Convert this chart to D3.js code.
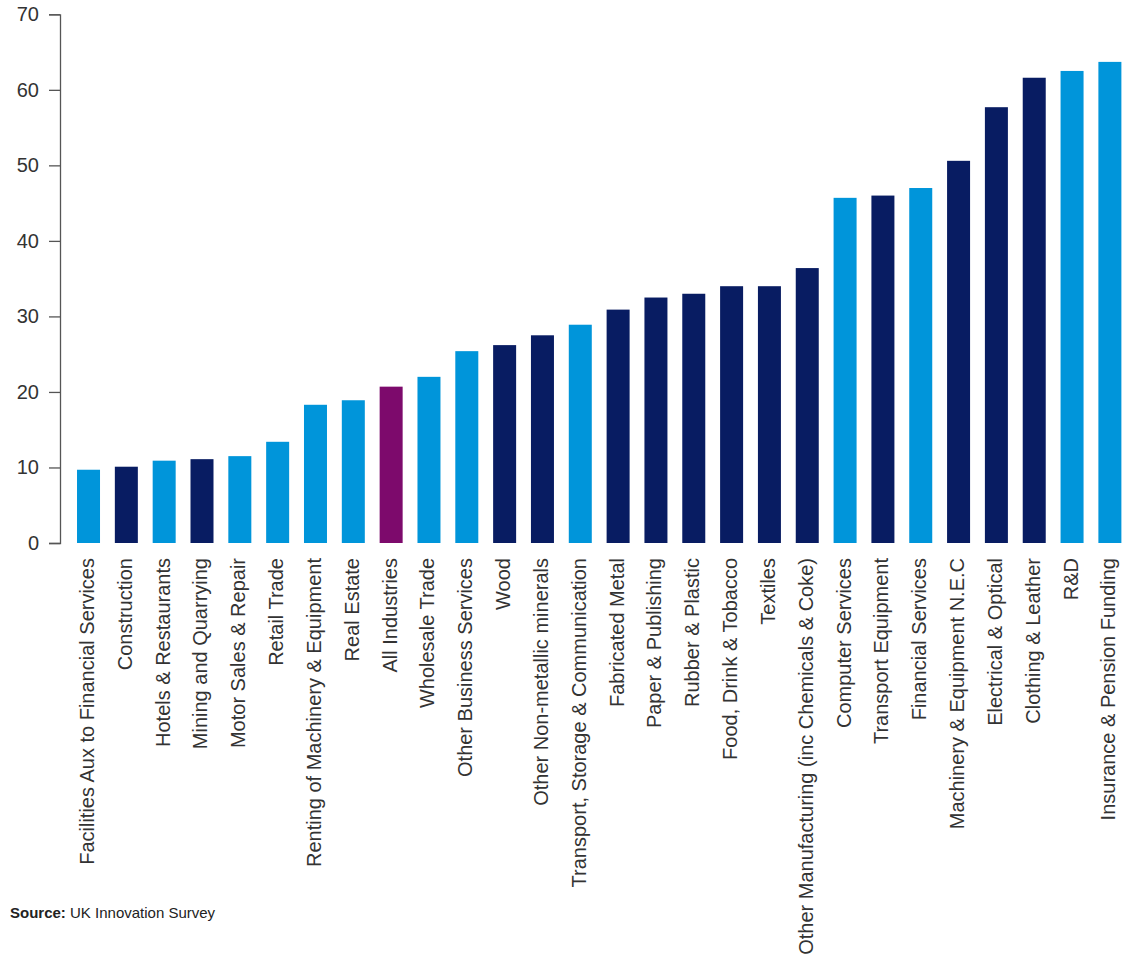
<!DOCTYPE html>
<html>
<head>
<meta charset="utf-8">
<script src="https://cdn.jsdelivr.net/npm/d3@7"></script>
<style>
  html, body { margin: 0; padding: 0; background: #fff; }
  svg { display: block; font-family: "Liberation Sans", Arial, sans-serif; }
</style>
</head>
<body>
<svg id="chart" width="1123" height="962"></svg>
<script>
const categories = [
  "Facilities Aux to Financial Services", "Construction", "Hotels & Restaurants",
  "Mining and Quarrying", "Motor Sales & Repair", "Retail Trade",
  "Renting of Machinery & Equipment", "Real Estate", "All Industries",
  "Wholesale Trade", "Other Business Services", "Wood",
  "Other Non-metallic minerals", "Transport, Storage & Communication",
  "Fabricated Metal", "Paper & Publishing", "Rubber & Plastic",
  "Food, Drink & Tobacco", "Textiles", "Other Manufacturing (inc Chemicals & Coke)",
  "Computer Services", "Transport Equipment", "Financial Services",
  "Machinery & Equipment N.E.C", "Electrical & Optical", "Clothing & Leather",
  "R&D", "Insurance & Pension Funding"
];
const values = [
  9.7, 10.1, 10.9, 11.1, 11.5, 13.4, 18.3, 18.9, 20.7, 22.0,
  25.4, 26.2, 27.5, 28.9, 30.9, 32.5, 33.0, 34.0, 34.0, 36.4,
  45.7, 46.0, 47.0, 50.6, 57.7, 61.6, 62.5, 63.7
];
// S = services, M = manufacturing/production, A = all industries
const sectors = [
  "S","M","S","M","S","S","S","S","A","S",
  "S","M","M","S","M","M","M","M","M","M",
  "S","M","S","M","M","M","S","S"
];
const yTicks = [0, 10, 20, 30, 40, 50, 60, 70];
const sectorColors = { S: "#0095da", M: "#081c62", A: "#7d0a6c" };

const svg = d3.select("#chart");
const data = categories.map((c, i) => ({ c, v: values[i], s: sectors[i] }));

const x = d3.scaleBand()
  .domain(categories)
  .range([58.1, 1140.3])
  .paddingInner(0.392)
  .paddingOuter(0.5);

const y = d3.scaleLinear().domain([0, 70]).range([543, 14.3]);

// Y axis
const yAxis = svg.append("g")
  .attr("transform", "translate(60,0)")
  .call(d3.axisLeft(y).tickValues(yTicks).tickSize(11).tickPadding(10).tickFormat(d3.format("d")));
yAxis.select(".domain").attr("stroke", "#555").attr("stroke-width", 1.3);
yAxis.selectAll(".tick line").attr("stroke", "#555").attr("stroke-width", 1.3);
yAxis.selectAll(".tick text")
  .attr("fill", "#333")
  .style("font-size", "20px")
  .style("font-family", "'Liberation Sans', Arial, sans-serif");

// Bars
svg.append("g").selectAll("rect")
  .data(data)
  .join("rect")
  .attr("x", d => x(d.c))
  .attr("width", x.bandwidth())
  .attr("y", d => y(d.v))
  .attr("height", d => y(0) - y(d.v))
  .attr("fill", d => sectorColors[d.s]);

// Category labels (rotated)
svg.append("g").selectAll("text")
  .data(data)
  .join("text")
  .attr("transform", d => `translate(${x(d.c) + x.bandwidth() / 2 + 5.5},558) rotate(-90)`)
  .attr("text-anchor", "end")
  .attr("fill", "#333")
  .style("font-size", "20px")
  .text(d => d.c);

// Source
const src = svg.append("text")
  .attr("x", 10)
  .attr("y", 918)
  .attr("fill", "#222")
  .style("font-size", "15px");
src.append("tspan").attr("font-weight", "bold").text("Source:");
src.append("tspan").text(" UK Innovation Survey");
</script>
</body>
</html>
